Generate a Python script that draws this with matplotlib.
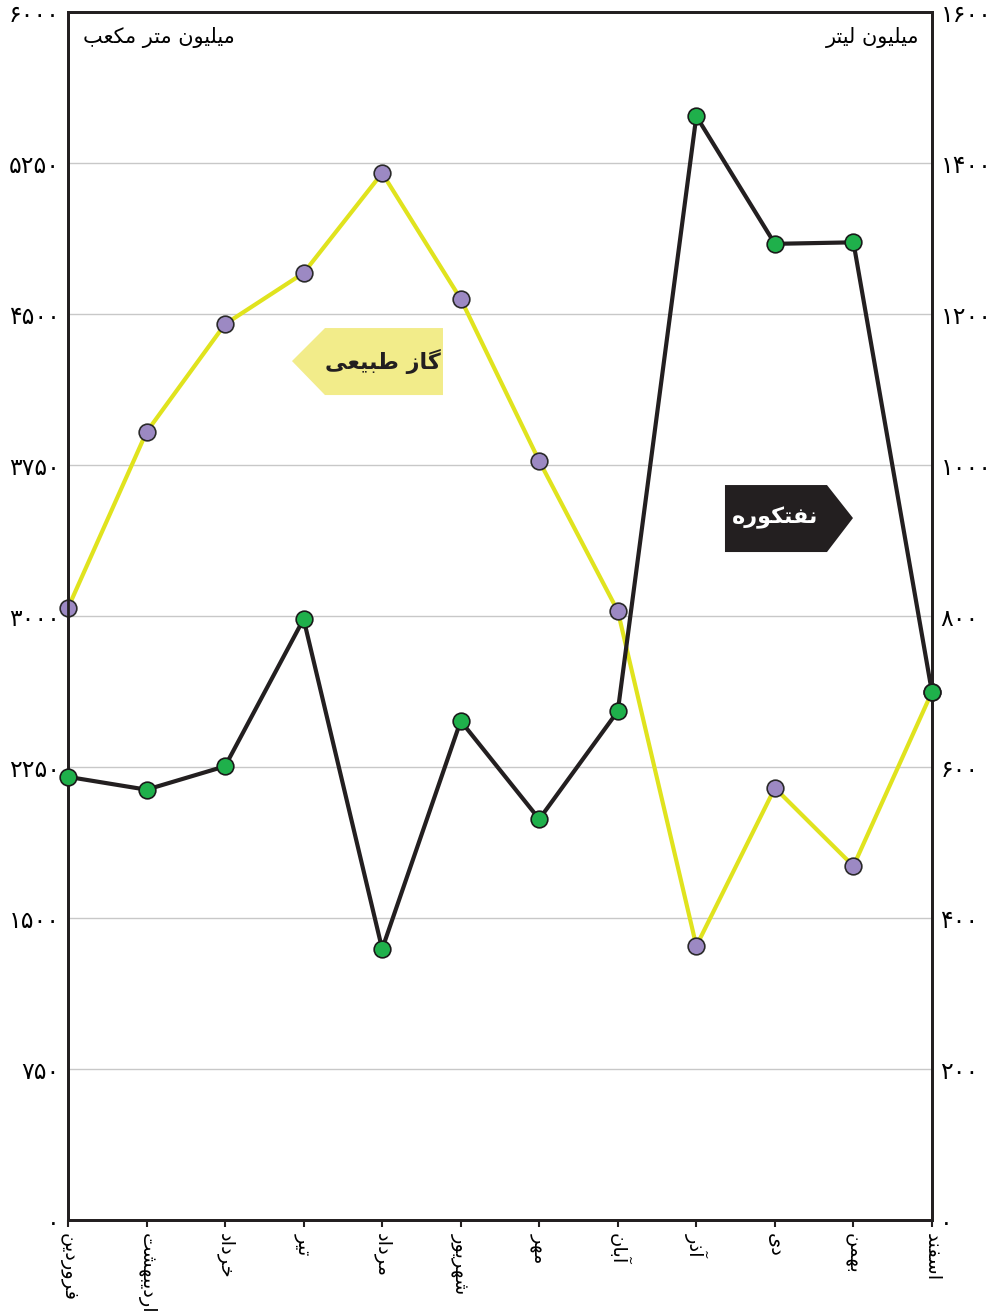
import numpy as np
import matplotlib
matplotlib.use("Agg")
import matplotlib.pyplot as plt
from matplotlib.patches import Polygon

# monthly values
months = ["فروردین", "اردیبهشت", "خرداد", "تیر", "مرداد", "شهریور",
          "مهر", "آبان", "آذر", "دی", "بهمن", "اسفند"]
gas = [3040, 3914, 4450, 4704, 5200, 4575, 3770, 3025, 1361, 2146, 1758, 2623]   # million m3
fuel_oil = [587, 570, 601, 796, 359, 661, 531, 674, 1462, 1293, 1295, 699]      # million litres

left_ticks = [0, 750, 1500, 2250, 3000, 3750, 4500, 5250, 6000]
right_ticks = [0, 200, 400, 600, 800, 1000, 1200, 1400, 1600]

# crude Persian shaping (matplotlib has no bidi / joining support)
FORMS = {
    'ا': ('\uFE8D', '\uFE8E', None, None),
    'آ': ('\uFE81', '\uFE82', None, None),
    'ب': ('\uFE8F', '\uFE90', '\uFE91', '\uFE92'),
    'ت': ('\uFE95', '\uFE96', '\uFE97', '\uFE98'),
    'خ': ('\uFEA5', '\uFEA6', '\uFEA7', '\uFEA8'),
    'د': ('\uFEA9', '\uFEAA', None, None),
    'ذ': ('\uFEAB', '\uFEAC', None, None),
    'ر': ('\uFEAD', '\uFEAE', None, None),
    'ز': ('\uFEAF', '\uFEB0', None, None),
    'س': ('\uFEB1', '\uFEB2', '\uFEB3', '\uFEB4'),
    'ش': ('\uFEB5', '\uFEB6', '\uFEB7', '\uFEB8'),
    'ط': ('\uFEC1', '\uFEC2', '\uFEC3', '\uFEC4'),
    'ع': ('\uFEC9', '\uFECA', '\uFECB', '\uFECC'),
    'ف': ('\uFED1', '\uFED2', '\uFED3', '\uFED4'),
    'ک': ('\uFB8E', '\uFB8F', '\uFB90', '\uFB91'),
    'گ': ('\uFB92', '\uFB93', '\uFB94', '\uFB95'),
    'ل': ('\uFEDD', '\uFEDE', '\uFEDF', '\uFEE0'),
    'م': ('\uFEE1', '\uFEE2', '\uFEE3', '\uFEE4'),
    'ن': ('\uFEE5', '\uFEE6', '\uFEE7', '\uFEE8'),
    'ه': ('\uFEE9', '\uFEEA', '\uFEEB', '\uFEEC'),
    'و': ('\uFEED', '\uFEEE', None, None),
    'ی': ('\uFBFC', '\uFBFD', '\uFBFE', '\uFBFF'),
}


def fa(s):
    out = []
    for i, ch in enumerate(s):
        if ch not in FORMS:
            out.append(ch)
            continue
        prev = s[i - 1] if i > 0 else ''
        nxt = s[i + 1] if i + 1 < len(s) else ''
        jp = prev in FORMS and FORMS[prev][2] is not None
        jn = nxt in FORMS and FORMS[ch][2] is not None
        iso, fin, ini, med = FORMS[ch]
        if jp and jn:
            out.append(med)
        elif jp:
            out.append(fin)
        elif jn:
            out.append(ini)
        else:
            out.append(iso)
    return ''.join(reversed(out))


def fa_num(n):
    return str(n).translate(str.maketrans("0123456789", "۰۱۲۳۴۵۶۷۸۹"))


plt.rcParams['font.family'] = ['DejaVu Sans']

fig = plt.figure(figsize=(9.94, 13.11), dpi=100)
ax = fig.add_axes([0.0684, 0.0694, 0.8692, 0.9214])
ax2 = ax.twinx()

x = np.arange(len(months))

ax.plot(x, gas, color="#e0e31e", lw=3, zorder=3, clip_on=False)
ax.plot(x, gas, ls="none", marker="o", ms=12, mfc="#9c89c3", mec="#2a2a2a",
        mew=1.2, zorder=4, clip_on=False)
ax2.plot(x, fuel_oil, color="#231f20", lw=3, zorder=3, clip_on=False)
ax2.plot(x, fuel_oil, ls="none", marker="o", ms=12, mfc="#1fb04b", mec="#1a1a1a",
         mew=1.2, zorder=4, clip_on=False)

ax.set_xlim(0, 11)
ax.set_ylim(0, 6000)
ax2.set_ylim(0, 1600)

ax.set_yticks(left_ticks)
ax.set_yticklabels([fa_num(v) for v in left_ticks], fontsize=17)
ax2.set_yticks(right_ticks)
ax2.set_yticklabels([fa_num(v) for v in right_ticks], fontsize=17)
ax.tick_params(axis="y", length=0, pad=6)
ax2.tick_params(axis="y", length=0, pad=6)

ax.set_xticks(x)
ax.set_xticklabels([fa(m) for m in months], rotation=270, fontsize=14, va="top")
ax.tick_params(axis="x", length=5, width=1.5, color="#231f20", pad=4)

ax.grid(axis="y", color="#c8c8c8", lw=1)
ax.set_axisbelow(True)
for a in (ax, ax2):
    for sp in a.spines.values():
        sp.set_linewidth(2)
        sp.set_color("#231f20")

ax.text(0.017, 0.988, fa("میلیون متر مکعب"), transform=ax.transAxes,
        ha="left", va="top", fontsize=15)
ax.text(0.985, 0.988, fa("میلیون لیتر"), transform=ax.transAxes,
        ha="right", va="top", fontsize=15)


def px(xp, yp):
    return ((xp - 68) / 864.0, (1220 - yp) / 1208.0)


gas_box = Polygon([px(292, 361), px(325, 328), px(443, 328), px(443, 395), px(325, 395)],
                  closed=True, transform=ax.transAxes, fc="#f2ec8a", ec="none", zorder=5)
ax.add_patch(gas_box)
ax.text(*px(383, 361), fa("گاز طبیعی"), transform=ax.transAxes, ha="center",
        va="center", fontsize=16, fontweight="bold", color="#231f20", zorder=6)

oil_box = Polygon([px(725, 485), px(827, 485), px(853, 518), px(827, 552), px(725, 552)],
                  closed=True, transform=ax.transAxes, fc="#231f20", ec="none", zorder=5)
ax.add_patch(oil_box)
ax.text(*px(775, 518), fa("نفتکوره"), transform=ax.transAxes, ha="center",
        va="center", fontsize=16, fontweight="bold", color="white", zorder=6)

fig.savefig("out.png", dpi=100)
